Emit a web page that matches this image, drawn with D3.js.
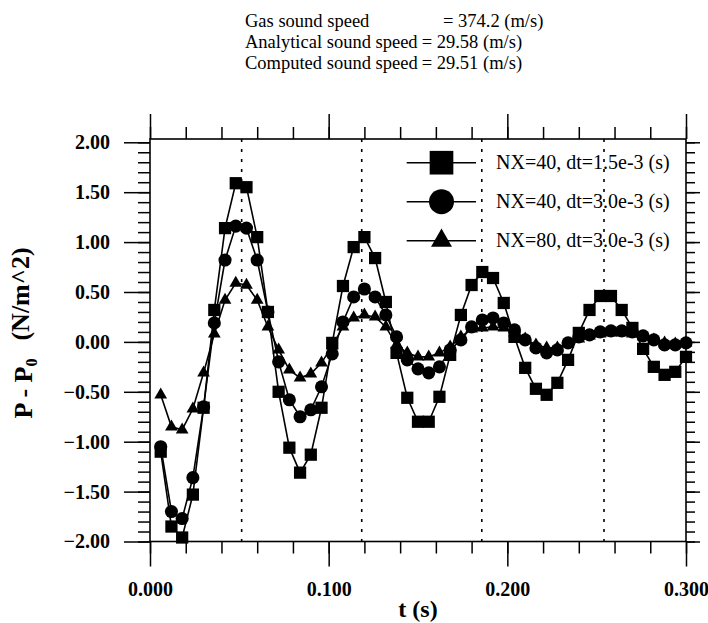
<!DOCTYPE html>
<html>
<head>
<meta charset="utf-8">
<script src="https://cdn.jsdelivr.net/npm/d3@7"></script>
<style>
    body { margin: 0; background: #ffffff; }
    svg { display: block; }
</style>
</head>
<body>
<svg id="chart"></svg>
<script>
// sample times (s)
var timeSteps = [0.006, 0.012, 0.018, 0.024, 0.030, 0.036, 0.042, 0.048, 0.054, 0.060,
                 0.066, 0.072, 0.078, 0.084, 0.090, 0.096, 0.102, 0.108, 0.114, 0.120,
                 0.126, 0.132, 0.138, 0.144, 0.150, 0.156, 0.162, 0.168, 0.174, 0.180,
                 0.186, 0.192, 0.198, 0.204, 0.210, 0.216, 0.222, 0.228, 0.234, 0.240,
                 0.246, 0.252, 0.258, 0.264, 0.270, 0.276, 0.282, 0.288, 0.294, 0.300];

// P - P0 for each run
var nx40Fine = [-1.10, -1.85, -1.96, -1.53, -0.66, 0.32, 1.14, 1.59, 1.55, 1.05,
                0.30, -0.50, -1.06, -1.31, -1.13, -0.66, -0.01, 0.56, 0.95, 1.05,
                0.84, 0.40, -0.11, -0.56, -0.80, -0.80, -0.55, -0.13, 0.27, 0.57,
                0.70, 0.64, 0.39, 0.05, -0.26, -0.47, -0.53, -0.41, -0.18, 0.09,
                0.32, 0.46, 0.46, 0.32, 0.14, -0.07, -0.25, -0.33, -0.30, -0.15];
var nx40Coarse = [-1.05, -1.70, -1.77, -1.36, -0.65, 0.19, 0.82, 1.16, 1.14, 0.82,
                  0.30, -0.20, -0.58, -0.75, -0.68, -0.45, -0.12, 0.20, 0.45, 0.53,
                  0.45, 0.27, 0.05, -0.18, -0.27, -0.31, -0.25, -0.08, 0.02, 0.15,
                  0.22, 0.24, 0.19, 0.12, 0.02, -0.06, -0.11, -0.08, -0.01, 0.05,
                  0.07, 0.10, 0.11, 0.11, 0.10, 0.06, 0.02, -0.03, -0.03, -0.01];
var nx80Coarse = [-0.53, -0.85, -0.88, -0.67, -0.31, 0.08, 0.42, 0.59, 0.57, 0.42,
                  0.15, -0.08, -0.28, -0.36, -0.32, -0.21, -0.04, 0.15, 0.24, 0.27,
                  0.25, 0.15, -0.03, -0.11, -0.15, -0.15, -0.11, -0.05, 0.05, 0.13,
                  0.14, 0.15, 0.14, 0.09, 0.03, -0.03, -0.06, -0.06, -0.02, 0.03,
                  0.06, 0.08, 0.09, 0.09, 0.08, 0.05, 0.02, -0.01, -0.02, -0.01];

var legendLabels = ["NX=40, dt=1.5e-3 (s)", "NX=40, dt=3.0e-3 (s)", "NX=80, dt=3.0e-3 (s)"];

// times of the analytical peaks (dotted lines)
var peakTimes = [0.0513, 0.1185, 0.1857, 0.2541];

var xTicks = [0, 0.1, 0.2, 0.3];
var yTicks = [-2, -1.5, -1, -0.5, 0, 0.5, 1, 1.5, 2];

var headerLabels = ["Gas sound speed", "Analytical sound speed", "Computed sound speed"];
var headerValues = ["= 374.2 (m/s)", "= 29.58 (m/s)", "= 29.51 (m/s)"];

var width = 708, height = 623;
var serif = "'Liberation Serif', 'Times New Roman', serif";

var svg = d3.select("#chart").attr("width", width).attr("height", height)
    .style("font-family", serif);

var x = d3.scaleLinear().domain([0, 0.3]).range([150, 686]);
var y = d3.scaleLinear().domain([-2, 2.033]).range([541.5, 139]);

// header text
var header = svg.append("g").attr("fill", "#000").style("font-size", "18.5px");
header.selectAll("text.lab")
    .data(headerLabels)
    .enter().append("text")
    .attr("class", "lab")
    .attr("x", 245)
    .attr("y", function(d, i) { return 26.7 + i * 21.3; })
    .text(function(d) { return d; });
header.selectAll("text.val")
    .data(headerValues)
    .enter().append("text")
    .attr("class", "val")
    .attr("x", function(d, i) { return i == 0 ? 443 : 421.7; })
    .attr("y", function(d, i) { return 26.7 + i * 21.3; })
    .text(function(d) { return d; });

// dotted verticals
svg.append("g")
    .selectAll("line")
    .data(peakTimes)
    .enter().append("line")
    .attr("x1", function(d) { return x(d); })
    .attr("x2", function(d) { return x(d); })
    .attr("y1", y.range()[1])
    .attr("y2", y.range()[0])
    .style("stroke", "#000")
    .style("stroke-width", 1.6)
    .style("stroke-dasharray", "3,7");

// ticks: minor + major on every side
function styleAxis(g) {
    g.select(".domain").remove();
    g.selectAll(".tick line").style("stroke", "#000").style("stroke-width", 1.5);
}

var xMinor = d3.range(0, 0.3001, 0.02);
var yMinor = d3.range(-2, 2.001, 0.1);

svg.append("g").attr("transform", "translate(0," + y(-2) + ")")
    .call(d3.axisBottom(x).tickValues(xMinor).tickSize(12).tickFormat(""))
    .call(styleAxis);
svg.append("g").attr("transform", "translate(0," + y(-2) + ")")
    .call(d3.axisBottom(x).tickValues(xTicks).tickSize(25).tickPadding(15).tickFormat(d3.format(".3f")))
    .call(styleAxis)
    .selectAll("text").style("font-size", "20px").style("font-weight", "bold")
    .style("font-family", serif).attr("fill", "#000");

svg.append("g").attr("transform", "translate(0," + y.range()[1] + ")")
    .call(d3.axisTop(x).tickValues(xMinor).tickSize(12).tickFormat(""))
    .call(styleAxis);
svg.append("g").attr("transform", "translate(0," + y.range()[1] + ")")
    .call(d3.axisTop(x).tickValues(xTicks).tickSize(25).tickFormat(""))
    .call(styleAxis);

svg.append("g").attr("transform", "translate(" + x(0) + ",0)")
    .call(d3.axisLeft(y).tickValues(yMinor).tickSize(12).tickFormat(""))
    .call(styleAxis);
svg.append("g").attr("transform", "translate(" + x(0) + ",0)")
    .call(d3.axisLeft(y).tickValues(yTicks).tickSize(26).tickPadding(14).tickFormat(d3.format(".2f")))
    .call(styleAxis)
    .selectAll("text").style("font-size", "20px").style("font-weight", "bold")
    .style("font-family", serif).attr("fill", "#000");

svg.append("g").attr("transform", "translate(" + x(0.3) + ",0)")
    .call(d3.axisRight(y).tickValues(yMinor).tickSize(9).tickFormat(""))
    .call(styleAxis);
svg.append("g").attr("transform", "translate(" + x(0.3) + ",0)")
    .call(d3.axisRight(y).tickValues(yTicks).tickSize(14).tickFormat(""))
    .call(styleAxis);

// frame
svg.append("rect")
    .attr("x", x(0)).attr("y", y.range()[1])
    .attr("width", x(0.3) - x(0)).attr("height", y(-2) - y.range()[1])
    .style("fill", "none").style("stroke", "#000").style("stroke-width", 1.6);

// axis titles
svg.append("text")
    .attr("x", (x(0) + x(0.3)) / 2)
    .attr("y", 617)
    .attr("text-anchor", "middle")
    .style("font-size", "24px").style("font-weight", "bold")
    .text("t (s)");

var yTitle = svg.append("text")
    .attr("transform", "translate(32,333) rotate(-90)")
    .attr("text-anchor", "middle")
    .style("font-size", "26px").style("font-weight", "bold");
yTitle.append("tspan").text("P - P");
yTitle.append("tspan").attr("dy", "0.3em").style("font-size", "16px").text("0");
yTitle.append("tspan").attr("dy", "-0.3em").attr("dx", "18").text("(N/m^2)");

// series
var series = [
    { values: nx40Fine, shape: d3.symbolSquare, size: 150, legSize: 560 },
    { values: nx40Coarse, shape: d3.symbolCircle, size: 135, legSize: 490 },
    { values: nx80Coarse, shape: d3.symbolTriangle, size: 70, legSize: 190 }
];

var line = d3.line()
    .x(function(d) { return x(d[0]); })
    .y(function(d) { return y(d[1]); });

series.forEach(function(s) {
    var pts = timeSteps.map(function(t, i) { return [t, s.values[i]]; });
    var g = svg.append("g");
    g.append("path")
        .attr("d", line(pts))
        .style("fill", "none")
        .style("stroke", "#000")
        .style("stroke-width", 1.6);
    g.selectAll("path.mark")
        .data(pts)
        .enter().append("path")
        .attr("class", "mark")
        .attr("d", d3.symbol().type(s.shape).size(s.size))
        .attr("transform", function(d) { return "translate(" + x(d[0]) + "," + y(d[1]) + ")"; })
        .style("fill", "#000");
});

// legend
var legend = svg.append("g");
legendLabels.forEach(function(label, i) {
    var cy = 162.7 + i * 39;
    legend.append("line")
        .attr("x1", 406.7).attr("x2", 476)
        .attr("y1", cy).attr("y2", cy)
        .style("stroke", "#000").style("stroke-width", 1.6);
    legend.append("path")
        .attr("d", d3.symbol().type(series[i].shape).size(series[i].legSize))
        .attr("transform", "translate(441.5," + cy + ")")
        .style("fill", "#000");
    legend.append("text")
        .attr("x", 496)
        .attr("y", cy + 6.5)
        .style("font-size", "20px")
        .text(label);
});
</script>
</body>
</html>
